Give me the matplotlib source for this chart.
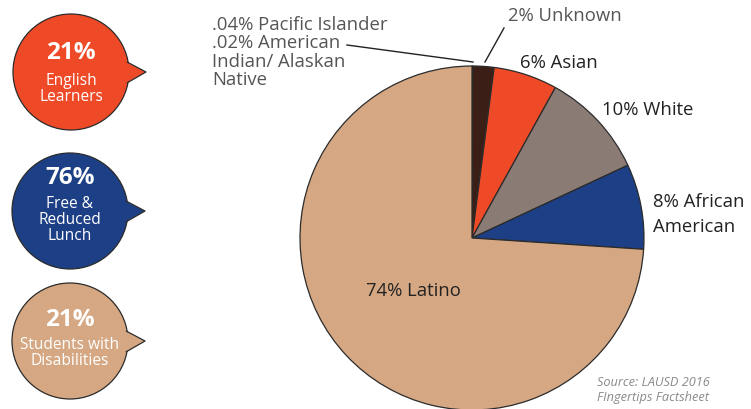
import matplotlib.pyplot as plt
import numpy as np
from matplotlib.patches import Circle, Polygon

plt.rcParams["font.family"] = ["Open Sans", "DejaVu Sans"]

# ethnicity breakdown, clockwise from the top
groups = ["Pacific Islander", "American Indian/ Alaskan Native", "Unknown",
          "Asian", "White", "African American", "Latino"]
shares = [0.04, 0.02, 2, 6, 10, 8, 74]
colors = ["#8a8a8a", "#6e6e6e", "#3b1f17", "#ef4a28", "#8a7b74", "#1d3f85", "#d5a883"]

# callout bubbles on the left
stat_values = ["21%", "76%", "21%"]
stat_labels = ["English\nLearners", "Free &\nReduced\nLunch", "Students with\nDisabilities"]
stat_colors = ["#ef4a28", "#1d3f85", "#d5a883"]

W, H = 751, 409
fig = plt.figure(figsize=(W / 100, H / 100), dpi=100)
ax = fig.add_axes([0, 0, 1, 1])
ax.set_xlim(0, W)
ax.set_ylim(0, H)
ax.set_aspect("equal")
ax.axis("off")


def py(y):
    # pixel row -> data y
    return H - y


cx, cy, r = 472, py(238), 172
ax.pie(shares, colors=colors, startangle=90, counterclock=False,
       center=(cx, cy), radius=r,
       wedgeprops=dict(edgecolor="#2b2b2b", linewidth=0.9))
ax.set_xlim(0, W)
ax.set_ylim(0, H)

fs = 13.3
label_kw = dict(fontsize=fs, va="center", ha="left")
small_lines = [".04% Pacific Islander", ".02% American", "Indian/ Alaskan", "Native"]
for i, line in enumerate(small_lines):
    ax.text(212, py(25 + i * 18.3), line, color="#555555", **label_kw)
ax.plot([347, 473], [py(45), py(62)], color="#222222", lw=1)
ax.text(508, py(16), f"{shares[2]:g}% {groups[2]}", color="#555555", **label_kw)
ax.plot([485, 504], [py(62), py(28)], color="#222222", lw=1)
ax.text(520, py(63), f"{shares[3]:g}% {groups[3]}", color="#222222", **label_kw)
ax.text(602, py(110), f"{shares[4]:g}% {groups[4]}", color="#222222", **label_kw)
ax.text(653, py(202), f"{shares[5]:g}% African", color="#222222", **label_kw)
ax.text(653, py(227), "American", color="#222222", **label_kw)
ax.text(413, py(291), f"{shares[6]:g}% {groups[6]}", color="#222222",
        fontsize=fs, ha="center", va="center")

ax.text(597, py(382), "Source: LAUSD 2016", color="#8a8a8a", fontsize=9.2,
        style="italic", va="center")
ax.text(597, py(398), "FIngertips Factsheet", color="#8a8a8a", fontsize=9.2,
        style="italic", va="center")

# speech bubbles: centre, y of the big number, y of the caption block
centers = [(71, 72), (70, 211), (70, 341)]
value_y = [53, 178, 320]
label_y = [89, 220, 353]
for (bx, by), vy, ly, val, lab, col in zip(centers, value_y, label_y,
                                           stat_values, stat_labels, stat_colors):
    rad = 58
    ax.add_patch(Circle((bx, py(by)), rad, facecolor=col, edgecolor="#2b2b2b",
                        lw=0.9, zorder=3))
    a1, a2 = np.radians(10), np.radians(-11)
    top = (bx + (rad - 1.5) * np.cos(a1), py(by) + (rad - 1.5) * np.sin(a1))
    bot = (bx + (rad - 1.5) * np.cos(a2), py(by) + (rad - 1.5) * np.sin(a2))
    tip = (bx + 75, py(by))
    ax.add_patch(Polygon([top, tip, bot], closed=True, facecolor=col,
                         edgecolor="none", zorder=4))
    ax.plot([top[0] + 0.8, tip[0], bot[0] + 0.8], [top[1], tip[1], bot[1]],
            color="#2b2b2b", lw=0.9, zorder=5)
    ax.text(bx, py(vy), val, color="white", fontsize=17.5,
            fontweight="bold", ha="center", va="center", zorder=6)
    ax.text(bx, py(ly), lab, color="white", fontsize=11.2,
            ha="center", va="center", linespacing=0.97, zorder=6)

fig.savefig("out.png", dpi=100)
